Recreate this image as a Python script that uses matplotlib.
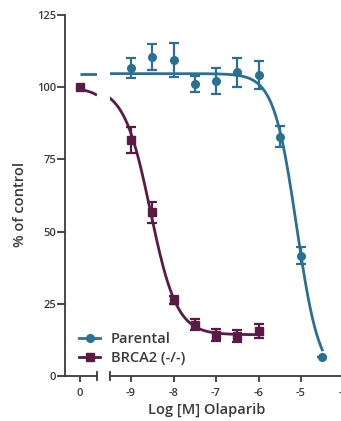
import numpy as np
import matplotlib
matplotlib.use("Agg")
import matplotlib.pyplot as plt

plt.rcParams['font.family'] = ['Open Sans', 'DejaVu Sans']

# ---- data ----
log_conc = [-9, -8.5, -8, -7.5, -7, -6.5, -6, -5.5, -5, -4.5]
parental_mean = [106.6, 110.4, 109.4, 101.1, 102.1, 105.1, 104.2, 82.9, 41.7, 6.5]
parental_err = [3.5, 4.5, 6.0, 2.8, 4.4, 5.0, 4.9, 3.7, 2.8, 0.0]

brca_conc = [-9, -8.5, -8, -7.5, -7, -6.5, -6]
brca_mean = [81.7, 56.7, 26.3, 17.7, 14.2, 13.9, 15.6]
brca_err = [4.5, 3.6, 1.5, 1.9, 2.2, 2.2, 2.3]

control_x = [0]
brca_control = [100]

# 4PL fit parameters (top, bottom, logIC50, hill)
parental_fit = dict(top=104.7, bottom=-1.0, logic50=-5.104, hill=1.62)
brca_fit = dict(top=100.0, bottom=14.3, logic50=-8.544, hill=1.4)

xticks_right = [-9, -8, -7, -6, -5, -4]
yticks = [0, 25, 50, 75, 100, 125]

teal = '#2a6f94'
purple = '#5a1a45'
txt = '#3a3a3a'
spine_c = '#3a3a3a'


def four_pl(x, p):
    return p['bottom'] + (p['top'] - p['bottom']) / (1 + 10 ** ((x - p['logic50']) * p['hill']))


W, H = 341, 421
fig = plt.figure(figsize=(W / 100, H / 100), dpi=100)

def fx(px):
    return px / W

def fy(py):
    return 1 - py / H

y_top_px, y_bot_px = 15, 376
axL = fig.add_axes([fx(65), fy(y_bot_px), fx(97) - fx(65), fy(y_top_px) - fy(y_bot_px)])
axR = fig.add_axes([fx(110), fy(y_bot_px), fx(350) - fx(110), fy(y_top_px) - fy(y_bot_px)], sharey=axL)

ppd = 42.5  # pixels per decade
axL.set_xlim(-15 / ppd, 17 / ppd)
axR.set_xlim(-9 - 21 / ppd, -9 - 21 / ppd + 240 / ppd)
axL.set_ylim(0, 125)

# left segment (control) — continuous position offset of the control column
ctrl_pos = -10.0
xl = np.linspace(0, 17 / ppd, 50)
axL.plot(xl, np.full_like(xl, parental_fit['top']), color=teal, lw=2, solid_capstyle='butt')
axL.plot(xl, four_pl(xl + ctrl_pos, brca_fit), color=purple, lw=2, solid_capstyle='butt')
axL.plot(control_x, brca_control, 's', color=purple, ms=5.5, clip_on=False, zorder=5)

# right segment curves
xr = np.linspace(-9 - 21 / ppd, -4.5, 400)
axR.plot(xr, four_pl(xr, parental_fit), color=teal, lw=2)
xb = np.linspace(-9 - 21 / ppd, -6, 400)
axR.plot(xb, four_pl(xb, brca_fit), color=purple, lw=2)

axR.errorbar(log_conc, parental_mean, yerr=parental_err, fmt='o', color=teal, ms=5.5,
             capsize=3.3, elinewidth=1.6, capthick=1.6, clip_on=False, zorder=5)
axR.errorbar(brca_conc, brca_mean, yerr=brca_err, fmt='s', color=purple, ms=5.5,
             capsize=3.3, elinewidth=1.6, capthick=1.6, clip_on=False, zorder=5)

# axes styling
for ax in (axL, axR):
    ax.set_facecolor('none')
    ax.spines['top'].set_visible(False)
    ax.spines['right'].set_visible(False)
    ax.spines['bottom'].set_color(spine_c)
    ax.spines['bottom'].set_linewidth(1.3)
    ax.tick_params(axis='x', colors=spine_c, labelcolor=txt, length=4, width=1.3, pad=4.5, labelsize=8)
axR.spines['left'].set_visible(False)
axR.tick_params(axis='y', left=False, labelleft=False)
axL.spines['left'].set_color(spine_c)
axL.spines['left'].set_linewidth(1.3)
axL.tick_params(axis='y', colors=spine_c, labelcolor=txt, length=5.5, width=1.3, pad=1, labelsize=8)
axL.set_yticks(yticks)
axL.set_xticks(control_x)
axL.set_xticklabels(['0'])
axR.set_xticks(xticks_right)
axR.set_xticklabels([str(v) for v in xticks_right])
for lab in axL.get_yticklabels() + axL.get_xticklabels() + axR.get_xticklabels():
    lab.set_fontweight('semibold')

# break caps
axL.plot([1, 1], [-0.012, 0.012], transform=axL.transAxes, color=spine_c, lw=1.3, clip_on=False)
axR.plot([0, 0], [-0.012, 0.012], transform=axR.transAxes, color=spine_c, lw=1.3, clip_on=False)

# legend
from matplotlib.lines import Line2D
handles = [Line2D([], [], color=teal, marker='o', ms=5.5, lw=2),
           Line2D([], [], color=purple, marker='s', ms=5.5, lw=2)]
leg = fig.legend(handles, ['Parental', 'BRCA2 (-/-)'], loc='lower left',
                 bbox_to_anchor=(fx(79), fy(365)), frameon=False,
                 prop={'size': 10.5, 'weight': 'semibold'}, handlelength=1.45,
                 handletextpad=0.75, labelspacing=0.35, borderpad=0, borderaxespad=0)
for t in leg.get_texts():
    t.set_color(txt)

fig.text(fx(207), fy(410), 'Log [M] Olaparib', ha='center', va='center', fontsize=10.5,
         fontweight='semibold', color=txt)
fig.text(fx(20), fy(204), '% of control', ha='center', va='center', rotation=90, fontsize=10.5,
         fontweight='semibold', color=txt)

fig.savefig('out.png', dpi=100)
